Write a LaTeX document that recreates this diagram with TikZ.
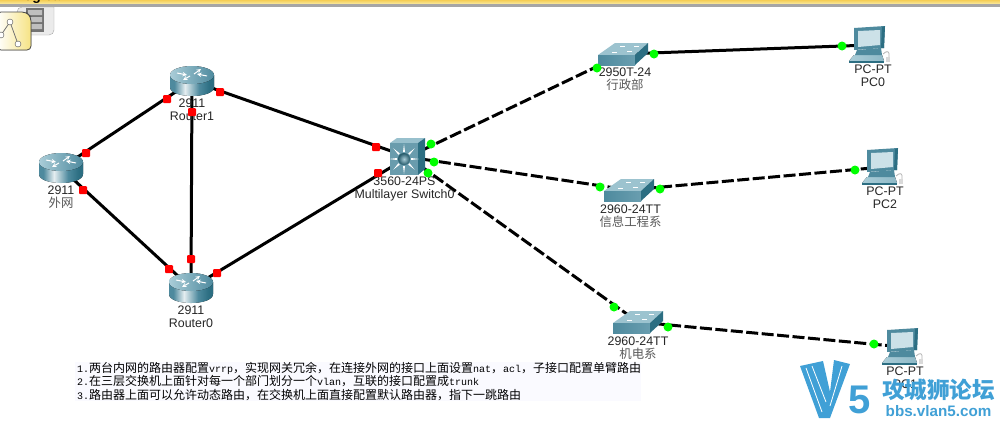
\documentclass[tikz,border=0pt]{standalone}
\usepackage{fontspec}
\setmainfont{Liberation Sans}
\setmonofont{Liberation Mono}
\newfontfamily\cjk{Noto Sans CJK SC}
\newcommand{\lat}[1]{{\ttfamily\fontsize{10}{13}\selectfont #1}}
\usetikzlibrary{positioning}
\definecolor{ciscoteal}{RGB}{78,138,158}
\definecolor{ciscodark}{RGB}{44,110,130}
\definecolor{ciscolight}{RGB}{170,205,216}
\definecolor{vfiveblue}{RGB}{64,160,214}
\definecolor{baryellow}{RGB}{244,220,100}
\pgfdeclarehorizontalshading{routerbody}{100bp}{
  color(0bp)=(ciscoteal); color(30bp)=(ciscoteal); color(42bp)=(white!85!ciscoteal);
  color(58bp)=(ciscoteal); color(70bp)=(ciscodark); color(100bp)=(ciscodark)}

\begin{document}
\begin{tikzpicture}[x=1pt, y=-1pt,
    devnode/.style = {inner sep=0pt, minimum size=0pt},
    devlabel/.style = {
      inner sep=0pt, align=center, text=black!85,
      font=\fontsize{12.4}{13}\selectfont
    },
    redport/.style = {
      rectangle, fill=red, rounded corners=1pt,
      inner sep=0pt, minimum size=8pt
    },
    greenport/.style = {
      circle, fill=green, inner sep=0pt, minimum size=9pt
    },
    link/.style = {line width=3pt, draw=black},
    dashlink/.style = {line width=3pt, draw=black, dash pattern=on 12pt off 3.5pt},
    routerico/.pic = {
      \fill[shading=routerbody] (-22,-6) -- (-22,6) .. controls (-22,18) and (22,18) .. (22,6) -- (22,-6) -- cycle;
      \fill[left color=ciscolight, right color=ciscoteal] (0,-6) ellipse [x radius=22, y radius=9];
      \draw[white, line width=1pt, -stealth] (-15,-8) -- (-5,-6);
      \draw[white, line width=1pt, -stealth] (15,-5) -- (5,-7);
      \draw[white, line width=1pt, -stealth] (2,-7) -- (9,-12);
      \draw[white, line width=1pt, -stealth] (-2,-5) -- (-9,-1);
    },
    switchico/.pic = {
      \fill[ciscolight!85!ciscoteal] (-8,-11) -- (25,-11) -- (12,1) -- (-25,1) -- cycle;
      \fill[left color=ciscoteal, right color=ciscoteal!70!ciscolight] (-25,1) rectangle (12,11);
      \fill[ciscodark] (12,1) -- (25,-11) -- (25,-1) -- (12,11) -- cycle;
      \draw[white, line width=1pt] (-11,-2) -- (-6,-2) (-3,-8) -- (2,-8) (4,-3) -- (9,-3) (11,-8) -- (16,-8);
    },
    coreico/.pic = {
      \fill[ciscolight!80!ciscoteal] (-18,-14) -- (-11,-19) -- (17,-19) -- (10,-14) -- cycle;
      \fill[ciscodark] (10,-14) -- (17,-19) -- (17,12) -- (10,18) -- cycle;
      \fill[ciscoteal!85!white] (-18,-14) rectangle (10,18);
      \foreach \a in {0,45,...,315} {
        \fill[white, rotate around={\a:(-4,2)}] (3,1) -- (11,2) -- (3,3) -- cycle;
      }
      \shade[inner color=ciscolight, outer color=ciscodark!80!black] (-4,2) circle (6);
    },
    pcico/.pic = {
      \fill[left color=ciscolight, right color=ciscolight!70!ciscoteal] (-16,10) -- (12,10) -- (14,16) -- (-21,16) -- cycle;
      \fill[ciscoteal] (-13,5) -- (11,3) -- (12,10) -- (-15,10) -- cycle;
      \fill[ciscoteal] (-16,-17) -- (15,-19) -- (14,3) -- (-16,5) -- cycle;
      \fill[ciscodark] (12,-18) -- (15,-19) -- (14,3) -- (11,3) -- cycle;
      \fill[ciscolight!60!white] (-12,-14) -- (10,-15) -- (10,0) -- (-12,2) -- cycle;
      \fill[ciscodark] (-21,16) -- (14,16) -- (14,18) -- (-21,18) -- cycle;
      \draw[black!30, line width=.8pt] (13,9) .. controls (17,5) and (20,6) .. (19,12);
      \fill[black!15] (16,12) rectangle (20,17);
    }]
    \useasboundingbox (0,0) rectangle (1000,424);
    \fill[white] (0,0) rectangle (1000,424);

    % window bar and tabs
    \begin{scope}
      \clip (0,0) rectangle (1000,4);
      \fill[top color=baryellow!85!orange, bottom color=baryellow!60!white] (0,0) rectangle (1000,4);
      \node (logical) [anchor=base west, inner sep=0pt, font=\bfseries\fontsize{14}{14}\selectfont] at (15,0.5) {Logical};
    \end{scope}
    \fill[black!35] (0,4) rectangle (1000,7);
    \fill[black!8, draw=black!35] (17,7) -- (54,7) -- (54,29) [rounded corners=5pt] -- (54,35) -- (30,35) -- (17,35) -- cycle;
    \fill[black!55] (26,8) rectangle (44,32);
    \fill[black!25] (28,10) rectangle (42,15) (28,17) rectangle (42,22) (28,24) rectangle (42,29);
    \fill[left color=white, right color=baryellow!80!white, draw=black!70, line width=.8pt, rounded corners=4pt]
      (-3,12) -- (26,12) -- (31,17) -- (31,50) -- (-3,50) -- cycle;
    \draw[black!55, line width=.8pt] (1,35) -- (10,22) -- (18,44);
    \filldraw[fill=white, draw=black!70] (10,22) circle (3) (18,44) circle (3) (1,35) circle (3);

    \node (outnet) [devnode] at (61,168) {};
    \node (router1) [devnode] at (192,81) {};
    \node (router0) [devnode] at (191,288) {};
    \node (multisw) [devnode] at (408,157) {};
    \node (admin) [devnode] at (623,54) {};
    \node (infoeng) [devnode] at (629,190) {};
    \node (mecheng) [devnode] at (638,322) {};
    \node (pczero) [devnode] at (870,45) {};
    \node (pctwo) [devnode] at (883,167) {};
    \node (pcone) [devnode] at (903,347) {};

    \path[link] (outnet) edge (router1);
    \path[link] (outnet) edge (router0);
    \path[link] (router1) edge (router0);
    \path[link] (router1) edge (multisw);
    \path[link] (router0) edge (multisw);
    \path[link] (admin) edge (pczero);
    \path[dashlink] (multisw) edge (admin);
    \path[dashlink] (multisw) edge (infoeng);
    \path[dashlink] (multisw) edge (mecheng);
    \path[dashlink] (infoeng) edge (pctwo);
    \path[dashlink] (mecheng) edge (pcone);

    \pic at (outnet) {routerico};
    \pic at (router1) {routerico};
    \pic at (router0) {routerico};
    \pic at (multisw) {coreico};
    \pic at (admin) {switchico};
    \pic at (infoeng) {switchico};
    \pic at (mecheng) {switchico};
    \pic at (pczero) {pcico};
    \pic at (pctwo) {pcico};
    \pic at (pcone) {pcico};

    \node (outnetlab) [devlabel, below=17pt of outnet] {2911\\{\cjk\color{black!65}外网}};
    \node (router1lab) [devlabel, below=17pt of router1] {2911\\Router1};
    \node (router0lab) [devlabel, below=17pt of router0] {2911\\Router0};
    \node (multiswlab) [devlabel, below=19pt of multisw, xshift=-3.5pt] {3560-24PS\\Multilayer Switch0};
    \node (adminlab) [devlabel, below=13pt of admin, xshift=2pt] {2950T-24\\{\cjk\color{black!65}行政部}};
    \node (infoenglab) [devlabel, below=14pt of infoeng, xshift=1.5pt] {2960-24TT\\{\cjk\color{black!65}信息工程系}};
    \node (mechenglab) [devlabel, below=14pt of mecheng] {2960-24TT\\{\cjk\color{black!65}机电系}};
    \node (pczerolab) [devlabel, below=19pt of pczero, xshift=3pt] {PC-PT\\PC0};
    \node (pctwolab) [devlabel, below=19pt of pctwo, xshift=2pt] {PC-PT\\PC2};
    \node (pconelab) [devlabel, below=19pt of pcone, xshift=2pt] {PC-PT\\PC1};

    \node (p1) [redport] at (86,153) {};
    \node (p2) [redport] at (83,190) {};
    \node (p3) [redport] at (167,99) {};
    \node (p4) [redport] at (192,112) {};
    \node (p5) [redport] at (220,92) {};
    \node (p6) [redport] at (169,269) {};
    \node (p7) [redport] at (191,259) {};
    \node (p8) [redport] at (217,273) {};
    \node (p9) [redport] at (376,147) {};
    \node (p10) [redport] at (378,173) {};
    \node (g1) [greenport] at (431,144) {};
    \node (g2) [greenport] at (434,162) {};
    \node (g3) [greenport] at (428,173) {};
    \node (g4) [greenport] at (597,68) {};
    \node (g5) [greenport] at (654,54) {};
    \node (g6) [greenport] at (842,46) {};
    \node (g7) [greenport] at (600,187) {};
    \node (g8) [greenport] at (660,189) {};
    \node (g9) [greenport] at (855,170) {};
    \node (g10) [greenport] at (614,307) {};
    \node (g11) [greenport] at (668,327) {};
    \node (g12) [greenport] at (874,344) {};

    \fill[blue!2] (75,362) rectangle (641,401);
    \node (notes) [anchor=north west, inner sep=0pt, text width=564pt,
      font=\fontsize{12}{13.5}\selectfont\cjk] at (77,362) {%
      \lat{1.}两台内网的路由器配置\lat{vrrp}，实现网关冗余，在连接外网的接口上面设置\lat{nat}，\lat{acl}，子接口配置单臂路由\\
      \lat{2.}在三层交换机上面针对每一个部门划分一个\lat{vlan}，互联的接口配置成\lat{trunk}\\
      \lat{3.}路由器上面可以允许动态路由，在交换机上面直接配置默认路由器，指下一跳路由};

    % watermark
    \fill[vfiveblue] (800,366) -- (823,361) -- (830,392) -- (834,360) -- (850,364) -- (830,418) -- (819,418) -- cycle;
    \draw[white, line width=.8pt] (806,368) -- (822,412) (812,366) -- (826,402) (842,366) -- (830,406);
    \node (vfive) [anchor=center, inner sep=0pt, text=vfiveblue, font=\bfseries\fontsize{40}{40}\selectfont] at (860,400) {5};
    \node (vfivecn) [anchor=center, inner sep=0pt, text=vfiveblue, font=\cjk\bfseries\fontsize{22.6}{23}\selectfont] at (938.5,390) {攻城狮论坛};
    \node (vfiveurl) [anchor=center, inner sep=0pt, text=vfiveblue, font=\bfseries\fontsize{15.2}{15}\selectfont] at (938.5,411) {bbs.vlan5.com};
\end{tikzpicture}
\end{document}
